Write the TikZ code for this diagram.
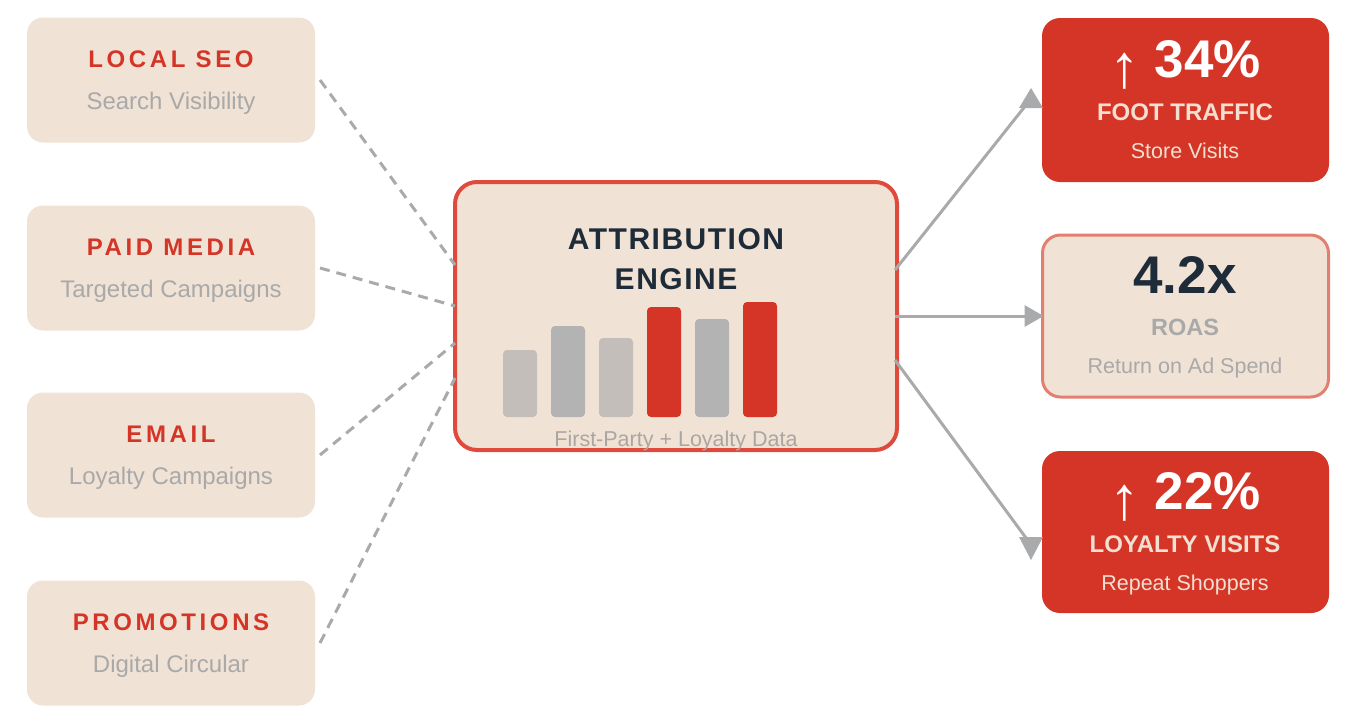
\documentclass[tikz,border=0pt]{standalone}
\usepackage{fontspec}
\setmainfont{Liberation Sans}
\newfontfamily\trackfont[LetterSpace=15]{Liberation Sans}
\newfontfamily\enginefont[LetterSpace=5]{Liberation Sans}
\newcommand\uparr{\raisebox{-10pt}{\mdseries\fontsize{61}{61}\selectfont↑}}
\definecolor{cream}{HTML}{F0E2D5}
\definecolor{accent}{HTML}{D43526}
\definecolor{enginered}{HTML}{DE4B3C}
\definecolor{roasedge}{HTML}{E27F71}
\definecolor{navy}{HTML}{1E2B38}
\definecolor{subgray}{HTML}{A9A9A9}
\definecolor{datagray}{HTML}{ACA6A2}
\definecolor{linegray}{HTML}{A9AAAC}
\definecolor{barlight}{HTML}{C4BEBA}
\definecolor{bardark}{HTML}{B3B3B3}
\definecolor{paletext}{HTML}{F1E0D2}
\begin{document}
\begin{tikzpicture}[x=1pt, y=-1pt,
   srcbox/.style={fill=cream, rounded corners=16, minimum width=288, minimum height=125, inner sep=0, outer sep=0},
   srctitle/.style={anchor=base, inner sep=0, text=accent, font=\trackfont\bfseries\fontsize{24}{28}\selectfont},
   srcsub/.style={anchor=base, inner sep=0, text=subgray, font=\fontsize{24}{28}\selectfont},
   feed/.style={draw=linegray, line width=3, dash pattern=on 10pt off 7pt},
   flow/.style={draw=linegray, line width=3},
   kpibox/.style={rounded corners=18, minimum width=287, inner sep=0, outer sep=0},
   kpinum/.style={anchor=base, inner sep=0, font=\bfseries\fontsize{53}{60}\selectfont},
   kpiname/.style={anchor=base, inner sep=0, font=\bfseries\fontsize{24}{28}\selectfont},
   kpisub/.style={anchor=base, inner sep=0, font=\fontsize{21.5}{26}\selectfont}]
   \useasboundingbox (0,0) rectangle (1358,724);
   \foreach \n/\y/\t/\s in {seo/80/LOCAL SEO/Search Visibility, paid/268/PAID MEDIA/Targeted Campaigns,
      email/455/EMAIL/Loyalty Campaigns, promo/643/PROMOTIONS/Digital Circular} {
      \node[srcbox] (\n) at (171,\y) {};
      \node[srctitle] (\n title) at (171,\y-13) {\t};
      \node[srcsub] (\n sub) at (171,\y+29) {\s};
   }
   \node[fill=cream, draw=enginered, line width=4, rounded corners=22, minimum width=442, minimum height=268, outer sep=0] (engine) at (676,316) {};
   \node[align=center, inner sep=0, text=navy, font=\enginefont\bfseries\fontsize{30}{40}\selectfont] (enginetitle) at (676,259) {ATTRIBUTION\\ENGINE};
   \foreach \i/\t/\c in {0/350/barlight, 1/326/bardark, 2/338/barlight, 3/307/accent, 4/319/bardark, 5/302/accent}
      \fill[\c, rounded corners=4] (503+48*\i,\t) rectangle (537+48*\i,417);
   \node[kpisub, text=datagray] (enginedata) at (676,446) {First-Party + Loyalty Data};
   \foreach \n/\d in {seo/51, paid/10, email/-27, promo/-62}
      \draw[feed] ([xshift=5pt]\n.east) -- ([yshift=\d pt]engine.west);
   \node[kpibox, fill=accent, minimum height=164] (foot) at (1185.5,100) {};
   \node[kpinum, text=white] (footnum) at (1185,77) {\uparr\ 34\%};
   \node[kpiname, text=paletext] (footname) at (1185,120) {FOOT TRAFFIC};
   \node[kpisub, text=paletext] (footsub) at (1185,158) {Store Visits};
   \node[kpibox, fill=cream, draw=roasedge, line width=3, minimum width=286, minimum height=162] (roas) at (1185.5,316) {};
   \node[kpinum, text=navy] (roasnum) at (1185,293) {4.2x};
   \node[kpiname, text=subgray, font=\bfseries\fontsize{23.5}{28}\selectfont] (roasname) at (1185,335) {ROAS};
   \node[kpisub, text=subgray] (roassub) at (1185,373) {Return on Ad Spend};
   \node[kpibox, fill=accent, minimum height=162] (loyal) at (1185.5,532) {};
   \node[kpinum, text=white] (loyalnum) at (1185,509) {\uparr\ 22\%};
   \node[kpiname, text=paletext] (loyalname) at (1185,552) {LOYALTY VISITS};
   \node[kpisub, text=paletext] (loyalsub) at (1185,590) {Repeat Shoppers};
   \draw[flow] ([xshift=-2pt,yshift=46pt]engine.east) -- ([xshift=-12pt]foot.west) coordinate (tipfoot);
   \draw[flow] ([xshift=-2pt]engine.east) -- ([xshift=-16pt]roas.west) coordinate (tiproas);
   \draw[flow] ([xshift=-2pt,yshift=-44pt]engine.east) -- ([xshift=-13pt,yshift=-10pt]loyal.west) coordinate (tiployal);
   \fill[linegray] (tipfoot) ++(1,-12) -- ++(12,20) -- ++(-24,0) -- cycle;
   \fill[linegray] (tiproas) ++(17,0) -- ++(-19,11) -- ++(0,-22) -- cycle;
   \fill[linegray] (tiployal) ++(2,18) -- ++(12,-23) -- ++(-24,0) -- cycle;
\end{tikzpicture}
\end{document}
